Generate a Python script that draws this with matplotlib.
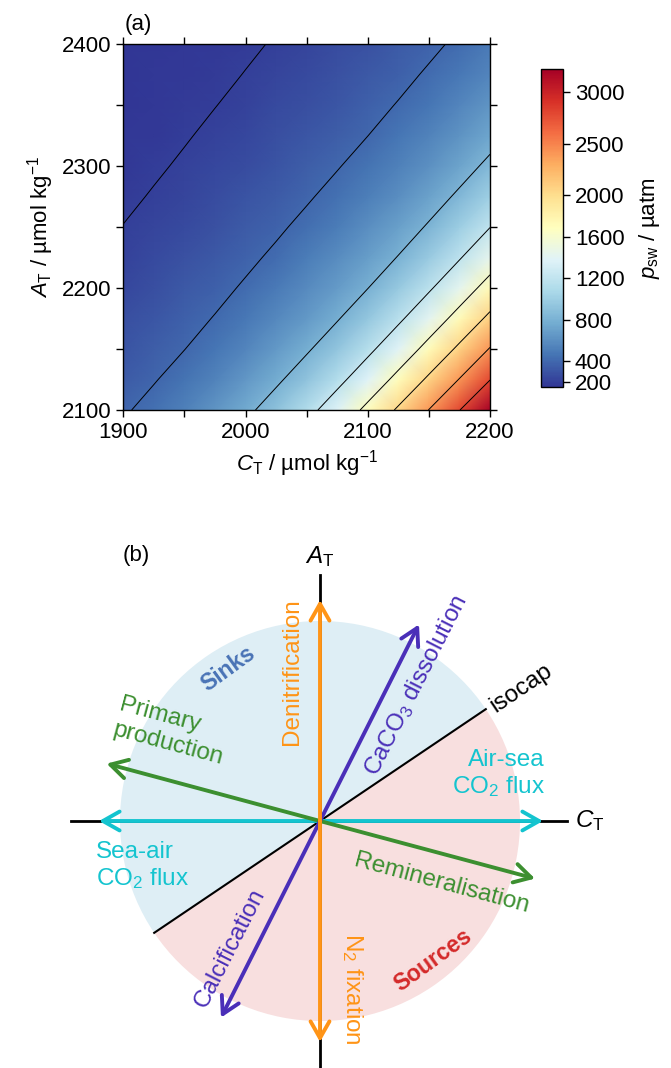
import numpy as np
import matplotlib
matplotlib.use('Agg')
import matplotlib.pyplot as plt
from matplotlib.patches import Wedge, FancyArrowPatch

plt.rcParams['font.family'] = ['Liberation Sans', 'DejaVu Sans']
plt.rcParams['mathtext.fontset'] = 'custom'
plt.rcParams['mathtext.rm'] = 'Liberation Sans'
plt.rcParams['mathtext.it'] = 'Liberation Sans:italic'
plt.rcParams['mathtext.bf'] = 'Liberation Sans:bold'

# ---- panel (a) data: pCO2 (uatm) ----
ct_grid = [1900, 1925, 1950, 1975, 2000, 2025, 2050, 2075, 2100, 2125, 2150, 2175, 2200]
at_grid = [2100, 2125, 2150, 2175, 2200, 2225, 2250, 2275, 2300, 2325, 2350, 2375, 2400]
pco2 = [
    [383, 449, 534, 633, 752, 910, 1112, 1368, 1686, 2053, 2407, 2793, 3219],
    [342, 391, 460, 544, 645, 764, 924, 1126, 1382, 1699, 2064, 2413, 2793],
    [306, 349, 398, 470, 555, 656, 775, 937, 1140, 1396, 1712, 2074, 2419],
    [275, 313, 356, 407, 480, 566, 667, 786, 951, 1154, 1410, 1725, 2084],
    [247, 281, 320, 363, 417, 490, 576, 678, 797, 965, 1168, 1423, 1738],
    [223, 253, 287, 326, 371, 426, 500, 587, 689, 809, 978, 1182, 1436],
    [202, 229, 259, 294, 333, 378, 436, 510, 597, 699, 822, 991, 1196],
    [183, 207, 234, 265, 300, 340, 385, 445, 520, 607, 710, 835, 1004],
    [173, 188, 212, 240, 271, 307, 347, 392, 454, 530, 617, 720, 847],
    [168, 175, 193, 218, 246, 277, 313, 353, 399, 464, 539, 628, 730],
    [162, 169, 177, 198, 223, 251, 283, 319, 360, 407, 473, 549, 637],
    [157, 164, 171, 180, 203, 228, 257, 289, 326, 366, 416, 482, 558],
    [152, 159, 166, 173, 185, 208, 233, 262, 295, 332, 373, 424, 491],
]
contour_levels = [200, 400, 800, 1200, 1600, 2000, 2400, 2800]
cbar_ticks = [200, 400, 800, 1200, 1600, 2000, 2500, 3000]

# ---- panel (b) data: process vectors in (C_T, A_T) space ----
processes = ['Denitrification', 'N$_2$ fixation', 'CaCO$_3$ dissolution', 'Calcification',
             'Primary production', 'Remineralisation', 'Air-sea CO$_2$ flux', 'Sea-air CO$_2$ flux']
d_ct = [0.0, 0.0, 0.495, -0.495, -1.067, 1.075, 1.115, -1.105]
d_at = [1.105, -1.105, 0.983, -0.983, 0.287, -0.288, 0.0, 0.0]
isocap_angle = 34

c_orange = '#ff9416'
c_cyan = '#14c4cf'
c_purple = '#4a2fb8'
c_green = '#3c8f30'
proc_colors = [c_orange, c_orange, c_purple, c_purple, c_green, c_green, c_cyan, c_cyan]

fig = plt.figure(figsize=(6.71, 10.68), dpi=100)

# ---------------- panel (a) ----------------
ax = fig.add_axes([0.1838, 0.6161, 0.5465, 0.3427])
X, Y = np.meshgrid(ct_grid, at_grid)
P = np.array(pco2, dtype=float)
mesh = ax.pcolormesh(X, Y, P, shading='gouraud', cmap='RdYlBu_r')
# contour in log space so the lines stay straight between grid nodes
ax.contour(X, Y, np.log(P), levels=np.log(contour_levels), colors='k', linewidths=0.7)
ax.set_xlim(1900, 2200)
ax.set_ylim(2100, 2400)
ax.set_xticks([1900, 2000, 2100, 2200])
ax.set_xticks([1950, 2050, 2150], minor=True)
ax.set_yticks([2100, 2200, 2300, 2400])
ax.set_yticks([2150, 2250, 2350], minor=True)
ax.tick_params(which='both', direction='out', length=5, width=1,
               top=True, right=True, labelsize=16)
for s in ax.spines.values():
    s.set_linewidth(1)
ax.set_xlabel(r'$C_\mathrm{T}$ / µmol kg$^{-1}$', fontsize=16)
ax.set_ylabel(r'$A_\mathrm{T}$ / µmol kg$^{-1}$', fontsize=16)
fig.text(0.186, 0.9766, '(a)', fontsize=16, ha='left', va='center')

cax = fig.add_axes([0.8063, 0.6376, 0.0328, 0.2978])
cb = fig.colorbar(mesh, cax=cax, ticks=cbar_ticks)
cb.outline.set_linewidth(1)
cax.tick_params(direction='out', length=5, width=1, labelsize=16)
cb.set_label(r'$p_\mathrm{sw}$ / µatm', fontsize=16, labelpad=9)

# ---------------- panel (b) ----------------
ax2 = fig.add_axes([0, 0, 1, 578 / 1068])
ax2.set_xlim(-1.6, 1.755)
ax2.set_ylim(-1.235, 1.655)
ax2.axis('off')

ax2.add_patch(Wedge((0, 0), 1.0, isocap_angle, isocap_angle + 180,
                    facecolor='#deeef5', edgecolor='none', zorder=0))
ax2.add_patch(Wedge((0, 0), 1.0, isocap_angle + 180, isocap_angle + 360,
                    facecolor='#f8dfdf', edgecolor='none', zorder=0))

ax2.plot([0, 0], [-1.24, 1.23], color='k', lw=2.0, zorder=1)
ax2.plot([-1.243, 1.233], [0, 0], color='k', lw=2.0, zorder=1)
rad = np.deg2rad(isocap_angle)
ax2.plot([-np.cos(rad), np.cos(rad)], [-np.sin(rad), np.sin(rad)], color='k', lw=1.5, zorder=1)

order = [6, 7, 4, 5, 2, 3, 0, 1]
for z, i in enumerate(order):
    arr = FancyArrowPatch((0, 0), (d_ct[i], d_at[i]),
                          arrowstyle='->,head_length=0.6,head_width=0.34',
                          mutation_scale=20, lw=2.8, color=proc_colors[i],
                          shrinkA=0, shrinkB=0, zorder=3 + z)
    ax2.add_patch(arr)

fs = 17.5
ax2.text(0, 1.32, r'$A_\mathrm{T}$', fontsize=fs, ha='center', va='center')
ax2.text(1.275, 0.0, r'$C_\mathrm{T}$', fontsize=fs, ha='left', va='center')
ax2.text(-0.14, 0.745, 'Denitrification', color=c_orange, fontsize=fs,
         rotation=90, ha='center', va='center')
ax2.text(0.16, -0.84, 'N$_2$ fixation', color=c_orange, fontsize=fs,
         rotation=-90, ha='center', va='center')
ax2.text(0.483, 0.677, 'CaCO$_3$ dissolution', color=c_purple, fontsize=fs,
         rotation=63, ha='center', va='center')
ax2.text(-0.45, -0.637, 'Calcification', color=c_purple, fontsize=fs,
         rotation=63, ha='center', va='center')
ax2.text(-0.742, 0.447, 'Primary\nproduction', color=c_green, fontsize=fs,
         rotation=-15, ha='center', va='center', multialignment='left')
ax2.text(0.608, -0.315, 'Remineralisation', color=c_green, fontsize=fs,
         rotation=-15, ha='center', va='center')
ax2.text(1.125, 0.235, 'Air-sea\nCO$_2$ flux', color=c_cyan, fontsize=fs,
         ha='right', va='center', multialignment='right')
ax2.text(-1.12, -0.225, 'Sea-air\nCO$_2$ flux', color=c_cyan, fontsize=fs,
         ha='left', va='center', multialignment='left')
ax2.text(1.008, 0.663, 'isocap', color='k', fontsize=fs,
         rotation=isocap_angle, ha='center', va='center')
ax2.text(-0.4575, 0.76, 'Sinks', color='#4a74b6', fontsize=16.5, fontweight='bold',
         rotation=36, ha='center', va='center')
ax2.text(0.567, -0.695, 'Sources', color='#d42a2a', fontsize=16.5, fontweight='bold',
         rotation=36, ha='center', va='center')
fig.text(0.183, 0.4803, '(b)', fontsize=16, ha='left', va='center')

fig.savefig('out.png', dpi=100)
